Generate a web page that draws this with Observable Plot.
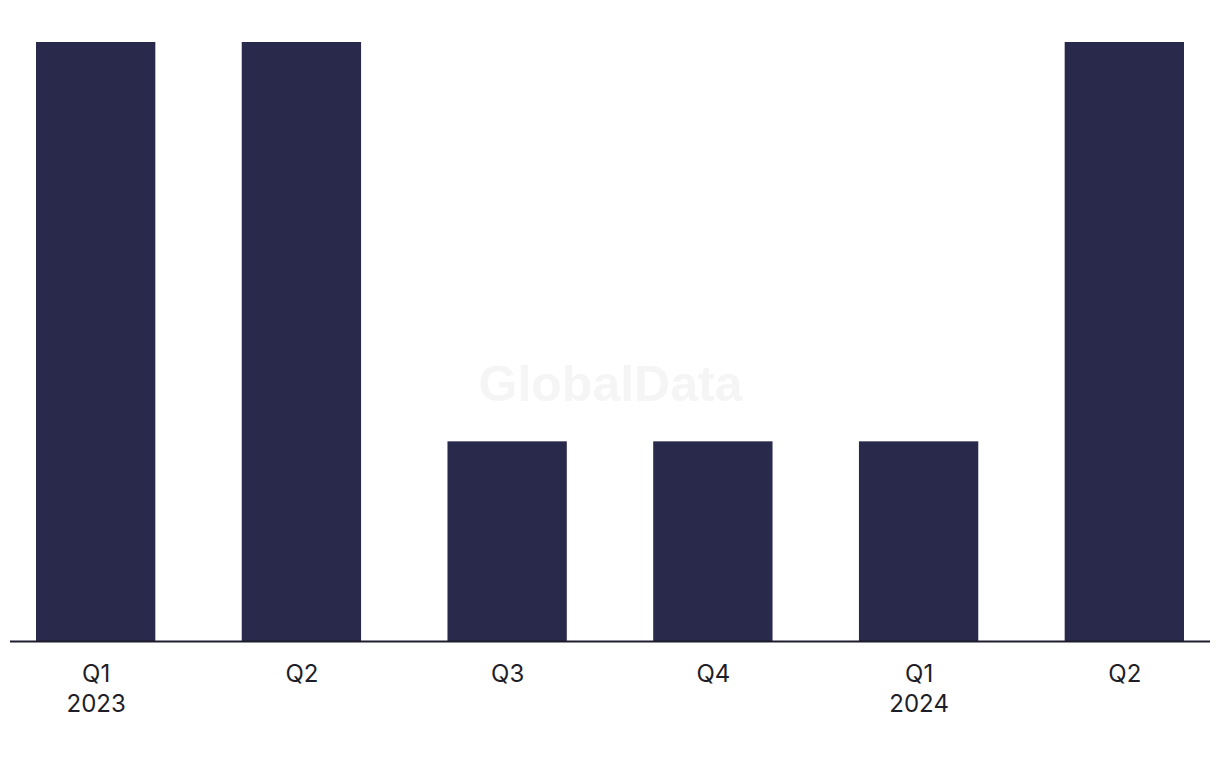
<!DOCTYPE html>
<html>
<head>
<meta charset="utf-8">
<script src="https://cdn.jsdelivr.net/npm/d3@7"></script>
<script src="https://cdn.jsdelivr.net/npm/@observablehq/plot@0.6"></script>
<style>
  html, body { margin: 0; padding: 0; background: #ffffff; }
  #chart { width: 1220px; height: 768px; }
</style>
</head>
<body>
<div id="chart"></div>
<script>
const quarters = ["Q1 2023", "Q2 2023", "Q3 2023", "Q4 2023", "Q1 2024", "Q2 2024"];
const tickLabels = ["Q1\n2023", "Q2", "Q3", "Q4", "Q1\n2024", "Q2"];
const values = [3, 3, 1, 1, 1, 3];
const watermark = "GlobalData";

const data = quarters.map((q, i) => ({quarter: q, value: values[i], label: tickLabels[i]}));
const labelOf = new Map(data.map(d => [d.quarter, d.label]));

const chart = Plot.plot({
  width: 1220,
  height: 768,
  marginTop: 42,
  marginBottom: 127,
  marginLeft: 36,
  marginRight: 36,
  style: {background: "#ffffff", fontFamily: "Inter, 'Liberation Sans', Arial, sans-serif"},
  x: {domain: quarters, paddingInner: 0.42, paddingOuter: 0, round: false, axis: null},
  y: {domain: [0, 3], axis: null},
  marks: [
    Plot.text([watermark], {
      frameAnchor: "middle", dy: 43, text: d => d,
      fontSize: 50, fontWeight: "bold", fill: "#f5f5f5",
      fontFamily: "'Liberation Sans', Arial, sans-serif"
    }),
    Plot.barY(data, {x: "quarter", y: "value", fill: "#29294b"}),
    Plot.ruleY([0], {stroke: "#1c1c2c", strokeWidth: 2, insetLeft: -26, insetRight: -26}),
    Plot.axisX({
      tickSize: 0, tickPadding: 19, fontSize: 24, lineHeight: 1.25,
      fill: "#1e1e28", tickFormat: d => labelOf.get(d), label: null
    })
  ]
});
document.getElementById("chart").appendChild(chart);
</script>
</body>
</html>
